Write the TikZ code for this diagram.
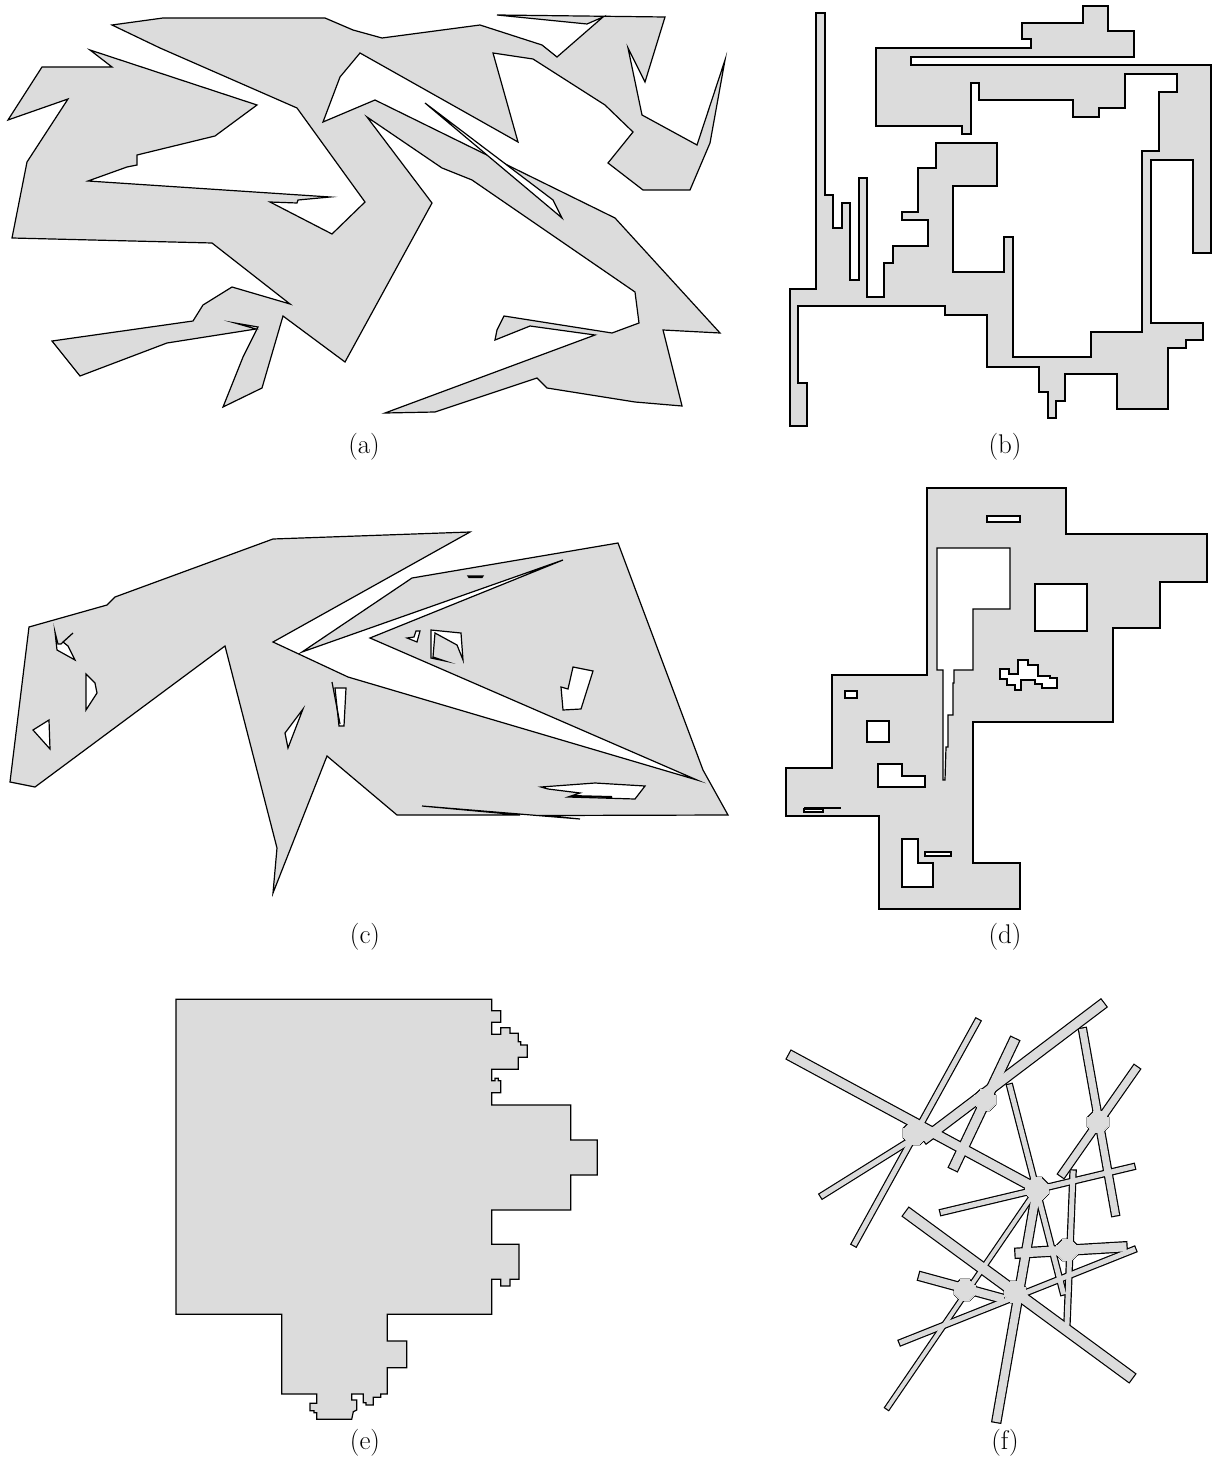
\documentclass[tikz,border=0pt]{standalone}
\usepackage{fontspec}
\usepackage{tikz}
\definecolor{pg}{RGB}{220,220,220}
\tikzset{poly/.style={fill=pg,draw=black,line width=1.2pt,line join=miter,miter limit=20},
hole/.style={fill=white,draw=black,line width=1.2pt,line join=miter,miter limit=20},
lab/.style={font=\fontsize{27}{32}\selectfont}}
\newcommand\hub[3]{(#1,#2) +(22.5:#3) -- +(67.5:#3) -- +(112.5:#3) -- +(157.5:#3) -- +(202.5:#3) -- +(247.5:#3) -- +(292.5:#3) -- +(337.5:#3) -- cycle}
\newcommand\fpass[2]{%
\begin{scope}[color=#2,line cap=rect,line join=miter]
\draw[line width=9pt+#1] (793,1057)--(1037,1189);
\draw[line width=5pt+#1] (977,1022)--(855,1243);
\draw[line width=9pt+#1] (1013,1043)--(955,1165);
\draw[line width=9pt+#1] (1100,1006)--(927,1137);
\draw[line width=5pt+#1] (823,1195)--(927,1130);
\draw[line width=5pt+#1] (1010,1087)--(1063,1292);
\draw[line width=7pt+#1] (1083,1032)--(1115,1212);
\draw[line width=7pt+#1] (1135,1070)--(1063,1173);
\draw[line width=5pt+#1] (1132,1167)--(943,1212);
\draw[line width=10pt+#1] (910,1215)--(1128,1375);
\draw[line width=8pt+#1] (1037,1189)--(997,1418);
\draw[line width=5pt+#1] (1073,1173)--(1067,1323);
\draw[line width=9pt+#1] (1020,1253)--(1122,1247);
\draw[line width=5pt+#1] (1133,1250)--(902,1342);
\draw[line width=8pt+#1] (923,1277)--(1000,1298);
\draw[line width=4pt+#1] (888,1407)--(1037,1189);
\filldraw[line width=#1] \hub{915}{1133}{12};
\filldraw[line width=#1] \hub{985}{1100}{11};
\filldraw[line width=#1] \hub{1037}{1189}{12};
\filldraw[line width=#1] \hub{1098}{1122}{11};
\filldraw[line width=#1] \hub{1067}{1250}{11};
\filldraw[line width=#1] \hub{1015}{1292}{11};
\filldraw[line width=#1] \hub{965}{1290}{11};
\end{scope}}
\begin{document}
\begin{tikzpicture}[x=1pt,y=-1pt]
\useasboundingbox (0,0) rectangle (1213,1471);
% (a)
\filldraw[poly] (112,25) -- (163,18) -- (325,18) -- (353,30) -- (382,38) -- (480,25) -- (542,45) -- (557,57) -- (603,17) -- (587,24) -- (497,15) -- (665,17) -- (645,82) -- (628,48) -- (642,115) -- (697,145) -- (725,60) -- (710,143) -- (690,190) -- (643,190) -- (608,163) -- (633,132) -- (605,105) -- (533,59) -- (493,53) -- (518,142) -- (360,53) -- (340,77) -- (323,122) -- (375,100) -- (615,218) -- (720,333) -- (663,330) -- (682,406) -- (635,402) -- (547,388) -- (537,378) -- (435,412) -- (385,413) -- (595,335) -- (530,326) -- (495,340) -- (497,330) -- (504,316) -- (612,333) -- (639,323) -- (635,292) -- (472,180) -- (442,168) -- (367,117) -- (432,203) -- (345,362) -- (283,316) -- (262,388) -- (223,407) -- (243,357) -- (258,327) -- (235,323) -- (256,329) -- (167,343) -- (80,376) -- (52,341) -- (193,321) -- (203,305) -- (232,287) -- (290,304) -- (212,243) -- (12,238) -- (27,162) -- (68,99) -- (8,120) -- (42,67) -- (112,67) -- (90,50) -- (257,105) -- (215,136) -- (137,155) -- (137,165) -- (127,167) -- (88,181) -- (330,197) -- (298,200) -- (297,203) -- (270,202) -- (332,234) -- (365,202) -- (297,108) -- (160,48) -- cycle;
\filldraw[hole] (425,103) -- (553,200) -- (562,218) -- cycle;
\node[lab] (la) at (364,447) {(a)};
% (b)
\filldraw[poly] (876,48) -- (1031,48) -- (1031,39) -- (1022,39) -- (1022,23) -- (1083,23) -- (1083,6) -- (1108,6) -- (1108,31) -- (1134,31) -- (1134,57) -- (911,57) -- (911,65) -- (1211,65) -- (1211,253) -- (1193,253) -- (1193,160) -- (1151,160) -- (1151,323) -- (1203,323) -- (1203,340) -- (1186,340) -- (1186,348) -- (1168,348) -- (1168,409) -- (1117,409) -- (1117,374) -- (1065,374) -- (1065,401) -- (1056,401) -- (1056,418) -- (1048,418) -- (1048,392) -- (1039,392) -- (1039,367) -- (987,367) -- (987,315) -- (945,315) -- (945,306) -- (798,306) -- (798,383) -- (807,383) -- (807,426) -- (790,426) -- (790,289) -- (816,289) -- (816,13) -- (825,13) -- (825,195) -- (833,195) -- (833,228) -- (842,228) -- (842,203) -- (850,203) -- (850,280) -- (859,280) -- (859,178) -- (867,178) -- (867,297) -- (884,297) -- (884,263) -- (893,263) -- (893,246) -- (928,246) -- (928,220) -- (902,220) -- (902,212) -- (918,212) -- (918,168) -- (936,168) -- (936,143) -- (997,143) -- (997,186) -- (953,186) -- (953,272) -- (1004,272) -- (1004,237) -- (1013,237) -- (1013,357) -- (1091,357) -- (1091,332) -- (1142,332) -- (1142,151) -- (1159,151) -- (1159,92) -- (1177,92) -- (1177,74) -- (1125,74) -- (1125,108) -- (1099,108) -- (1099,117) -- (1073,117) -- (1073,100) -- (979,100) -- (979,83) -- (971,83) -- (971,134) -- (962,134) -- (962,126) -- (876,126) -- cycle;
\node[lab] (lb) at (1005,447) {(b)};
% (c)
\filldraw[poly] (29,627) -- (107,605) -- (115,597) -- (273,539) -- (470,532) -- (273,642) -- (348,677) -- (697,780) -- (370,638) -- (563,560) -- (302,652) -- (412,578) -- (618,543) -- (703,770) -- (728,815) -- (545,815.5) -- (580,819) -- (422,806) -- (520,815) -- (397,815) -- (327,756) -- (273,893) -- (277,848) -- (225,646) -- (35,787) -- (10,782) -- cycle;
\filldraw[hole] (55,632) -- (57,650) -- (75,660) -- (68,646) -- (63,642) -- (73,633) -- (61,644) -- (58,644) -- cycle;
\filldraw[hole] (86,674) -- (86,710) -- (97,693) -- (95,683) -- cycle;
\filldraw[hole] (33,730) -- (49,720) -- (50,749) -- cycle;
\filldraw[hole] (285,733) -- (303,709) -- (288,748) -- cycle;
\filldraw[hole] (335,688) -- (346,688) -- (344,726) -- (339,726) -- cycle;
\draw[line width=1.2pt] (332,682) -- (340,724);
\filldraw[hole] (468,576) -- (483,576) -- (482,577.5) -- (469,577.5) -- cycle;
\filldraw[hole] (407,638) -- (414,637) -- (416,631) -- (420,631) -- (417,642) -- cycle;
\filldraw[hole] (431,630) -- (461,633) -- (463,660) -- (457,645) -- (435,633) -- (433,657) -- (445,661) -- (431,658) -- cycle;
\filldraw[hole] (573,667) -- (593,671) -- (581,709) -- (563,710) -- (561,687) -- (568,689) -- cycle;
\filldraw[hole] (541,787) -- (595,783) -- (645,786) -- (635,799) -- (568,797) -- (580,793) -- (548,789) -- cycle;
\draw[line width=2pt] (572,796) -- (612,797);
\node[lab] (lc) at (365,937) {(c)};
% (d)
\filldraw[poly] (927,488) -- (1066,488) -- (1066,534) -- (1207,534) -- (1207,582) -- (1160,582) -- (1160,628) -- (1113,628) -- (1113,722) -- (973,722) -- (973,863) -- (1020,863) -- (1020,909) -- (879,909) -- (879,816) -- (786,816) -- (786,768) -- (832,768) -- (832,675) -- (927,675) -- cycle;
\filldraw[hole] (937,548) -- (1010,548) -- (1010,609) -- (973,609) -- (973,670) -- (954,670) -- (954,683) -- (953,683) -- (953,715) -- (948,715) -- (948,747) -- (946,747) -- (945,780) -- (943,780) -- (943,670) -- (937,670) -- cycle;
\filldraw[hole] (987,516) rectangle (1020,522);
\filldraw[hole] (1035,584) rectangle (1087,631);
\filldraw[hole] (845,691) rectangle (857,698);
\filldraw[hole] (867,721) rectangle (889,742);
\filldraw[hole] (925,852) rectangle (951,856);
\filldraw[hole] (804,809) rectangle (823,812);
\draw[line width=1.8pt] (804,808) -- (841,808);
\filldraw[hole] (878,764) -- (902,764) -- (902,776) -- (925,776) -- (925,787) -- (878,787) -- cycle;
\filldraw[hole] (902,839) -- (918,839) -- (918,863) -- (933,863) -- (933,887) -- (902,887) -- cycle;
\filldraw[hole] (1000,669) -- (1009,669) -- (1009,674) -- (1018,674) -- (1018,660) -- (1028,660) -- (1028,665) -- (1038,665) -- (1038,676) -- (1050,676) -- (1050,678) -- (1057,678) -- (1057,688) -- (1042,688) -- (1042,684) -- (1035,684) -- (1035,680) -- (1021,680) -- (1021,690) -- (1015,690) -- (1015,685) -- (1007,685) -- (1007,679) -- (1000,679) -- cycle;
\node[lab] (ld) at (1005,937) {(d)};
% (e)
\filldraw[poly] (176,999.3) -- (491.7,999.3) -- (491.7,1010.7) -- (500.7,1010.7) -- (500.7,1022.3) -- (491.7,1022.3) -- (491.7,1034.3) -- (500.7,1034.3) -- (500.7,1027.7) -- (510,1027.7) -- (510,1033.3) -- (518.3,1033.3) -- (518.3,1041.7) -- (520.7,1041.7) -- (520.7,1045) -- (527.3,1045) -- (527.3,1057.3) -- (518.3,1057.3) -- (518.3,1069.3) -- (491.7,1069.3) -- (491.7,1080.7) -- (495,1080.7) -- (495,1078.3) -- (498.3,1078.3) -- (498.3,1080.7) -- (500.7,1080.7) -- (500.7,1092.7) -- (491.7,1092.7) -- (491.7,1105) -- (570.7,1105) -- (570.7,1140) -- (597.3,1140) -- (597.3,1175) -- (570.7,1175) -- (570.7,1210) -- (491.7,1210) -- (491.7,1244.3) -- (519,1244.3) -- (519,1279.3) -- (510,1279.3) -- (510,1286) -- (500.7,1286) -- (500.7,1279.3) -- (491.7,1279.3) -- (491.7,1314.3) -- (387.3,1314.3) -- (387.3,1341) -- (406.7,1341) -- (406.7,1367.7) -- (387.3,1367.7) -- (387.3,1394) -- (380.7,1394) -- (380.7,1397.3) -- (373.3,1397.3) -- (373.3,1405) -- (366,1405) -- (366,1402.7) -- (363.3,1402.7) -- (363.3,1394) -- (351.7,1394) -- (351.7,1400) -- (356.7,1400) -- (356.7,1410) -- (353.3,1411.7) -- (351.7,1419.3) -- (316.7,1419.3) -- (316.7,1412.7) -- (314,1412.7) -- (314,1410.7) -- (310,1410.7) -- (310,1403.3) -- (316.7,1403.3) -- (316.7,1394) -- (281.7,1394) -- (281.7,1314.3) -- (176,1314.3) -- cycle;
\node[lab] (le) at (365,1443) {(e)};
% (f)
\fpass{2.4pt}{black}
\fpass{0pt}{pg}
\node[lab] (lf) at (1005,1443) {(f)};
\end{tikzpicture}
\end{document}
